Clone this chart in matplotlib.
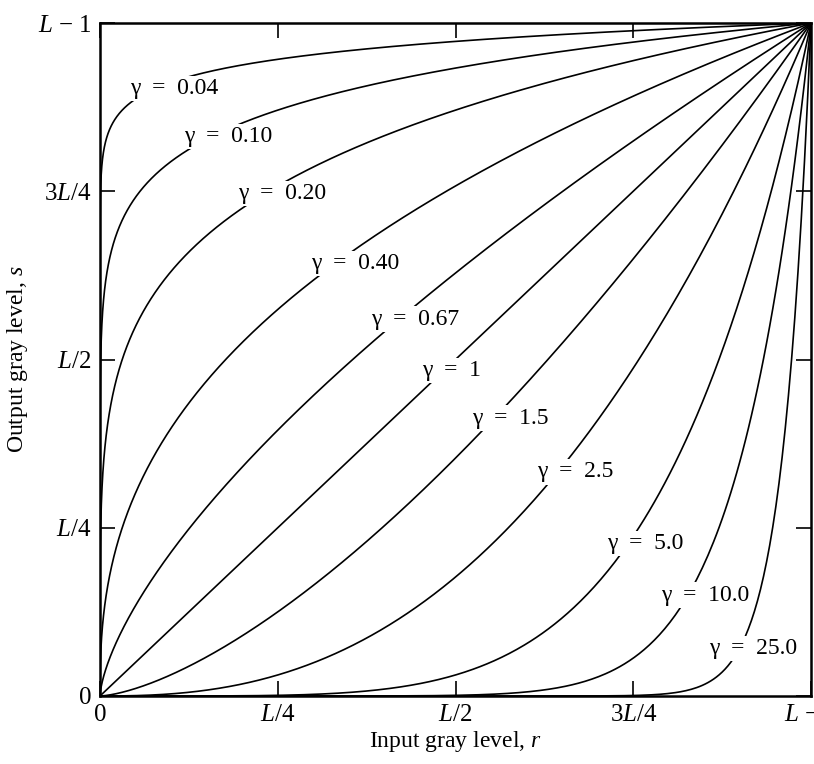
import numpy as np
import matplotlib
matplotlib.use("Agg")
import matplotlib.pyplot as plt

plt.rcParams['font.family'] = ['Liberation Serif', 'DejaVu Serif']
plt.rcParams['mathtext.fontset'] = 'custom'
plt.rcParams['mathtext.rm'] = 'Liberation Serif'
plt.rcParams['mathtext.it'] = 'Liberation Serif:italic'

# ---- data ----
gammas = [0.04, 0.10, 0.20, 0.40, 0.67, 1, 1.5, 2.5, 5.0, 10.0, 25.0]
gamma_labels = ["0.04", "0.10", "0.20", "0.40", "0.67", "1", "1.5", "2.5", "5.0", "10.0", "25.0"]
tick_values = [0, 0.25, 0.5, 0.75, 1.0]
tick_labels = ["0", "$L/4$", "$L/2$", "$3L/4$", "$L$ \u2212 1"]
# label centres (input r, output s)
label_r = [0.104, 0.180, 0.256, 0.359, 0.443, 0.494, 0.577, 0.668, 0.767, 0.851, 0.918]
label_s = [0.903, 0.831, 0.747, 0.643, 0.560, 0.484, 0.413, 0.333, 0.227, 0.150, 0.071]

fig = plt.figure(figsize=(8.14, 7.64), dpi=100)
ax = fig.add_axes([100/814, 1-696/764, 711/814, 673/764])

r = np.concatenate([np.linspace(0, 1e-6, 50), np.logspace(-6, 0, 3000)])
for g in gammas:
    ax.plot(r, r ** g, color='black', lw=1.2, zorder=2, solid_capstyle='butt')

for g, lab, lr, ls in zip(gammas, gamma_labels, label_r, label_s):
    ax.text(lr, ls, "\u03b3  =  " + lab, ha='center', va='center', fontsize=17,
            bbox=dict(facecolor='white', edgecolor='none', pad=1.5), zorder=3)

ax.set_xlim(0, 1)
ax.set_ylim(0, 1)
ax.set_xticks(tick_values)
ax.set_xticklabels(tick_labels)
ax.set_yticks(tick_values)
ax.set_yticklabels(tick_labels)
ax.tick_params(direction='in', length=11, width=1.2, labelsize=18,
               top=True, right=True, pad=6)
for sp in ax.spines.values():
    sp.set_linewidth(1.8)

ax.set_xlabel("Input gray level, $r$", fontsize=17, labelpad=2)
ax.set_ylabel("Output gray level, $s$", fontsize=17, labelpad=6)

fig.savefig("out.png", dpi=100)
